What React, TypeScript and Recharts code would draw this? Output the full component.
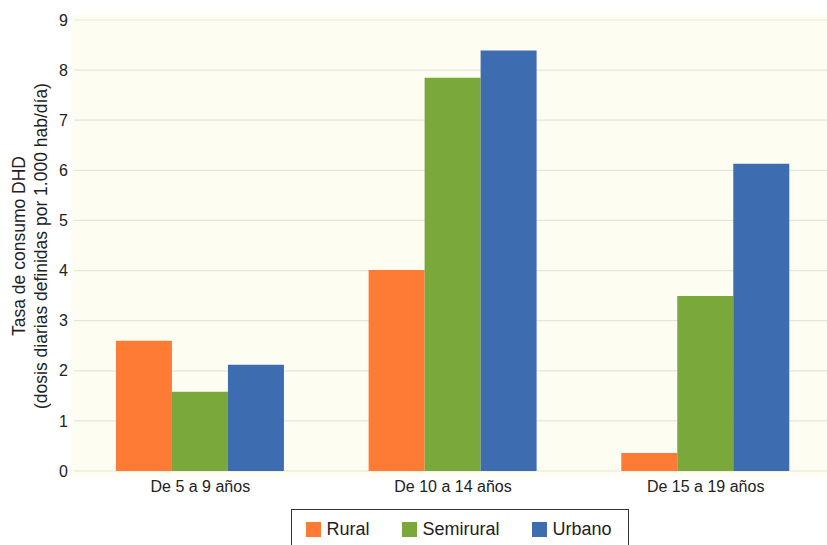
import React from "react";
import { BarChart, Bar, XAxis, YAxis, CartesianGrid } from "recharts";

const categories = ["De 5 a 9 años", "De 10 a 14 años", "De 15 a 19 años"];
const rural = [2.6, 4.01, 0.36];
const semirural = [1.58, 7.85, 3.49];
const urbano = [2.12, 8.39, 6.13];
const yTicks = [0, 1, 2, 3, 4, 5, 6, 7, 8, 9];

const SERIES = [
  { key: "rural", name: "Rural", color: "#FE7B35" },
  { key: "semirural", name: "Semirural", color: "#7BA83A" },
  { key: "urbano", name: "Urbano", color: "#3D6DB0" },
];

const data = categories.map((c, i) => ({
  cat: c,
  rural: rural[i],
  semirural: semirural[i],
  urbano: urbano[i],
}));

const FONT = '"Liberation Sans", Arial, Helvetica, sans-serif';

const YLabel = () => (
  <g fontFamily={FONT} fontSize={17.5} fill="#222">
    <text x={25} y={246} textAnchor="middle" transform="rotate(-90, 25, 246)">
      Tasa de consumo DHD
    </text>
    <text x={47} y={246} textAnchor="middle" transform="rotate(-90, 47, 246)">
      (dosis diarias definidas por 1.000 hab/día)
    </text>
  </g>
);

export default function App() {
  return (
    <div style={{ position: "absolute", left: 0, top: 0, width: 827, height: 545, overflow: "hidden", background: "#fff" }}>
      {/* plot background */}
      <div style={{ position: "absolute", left: 71, top: 15, width: 760, height: 462, background: "#FEFDF2" }} />
      <div style={{ position: "absolute", left: 0, top: 0 }}>
        <BarChart
          width={834}
          height={545}
          data={data}
          margin={{ top: 20, right: 2, bottom: 0, left: 0 }}
          barCategoryGap="16.6%"
          barGap={0}
        >
          <CartesianGrid vertical={false} stroke="#E6E5DC" strokeWidth={1.2} />
          <XAxis
            dataKey="cat"
            height={74}
            axisLine={false}
            tickLine={false}
            tickSize={6}
            tickMargin={4}
            tick={{ fontFamily: FONT, fontSize: 16, fill: "#222" }}
          />
          <YAxis
            width={74}
            domain={[0, 9]}
            ticks={yTicks}
            axisLine={false}
            tickLine={false}
            tickSize={4}
            tickMargin={2}
            tick={{ fontFamily: FONT, fontSize: 16, fill: "#222" }}
            label={{ content: () => <YLabel /> }}
          />
          {SERIES.map((s) => (
            <Bar key={s.key} dataKey={s.key} name={s.name} fill={s.color} isAnimationActive={false} />
          ))}
        </BarChart>
      </div>
      <div
        style={{
          position: "absolute",
          left: 291,
          top: 509,
          width: 338,
          height: 50,
          boxSizing: "border-box",
          border: "1.5px solid #333",
          background: "#fff",
          fontFamily: FONT,
          fontSize: 18,
          color: "#222",
        }}
      >
        <div style={{ display: "flex", alignItems: "center", height: 38, paddingLeft: 13.5 }}>
          {SERIES.map((s, i) => (
            <div key={s.key} style={{ display: "flex", alignItems: "center", marginLeft: i === 0 ? 0 : 32 }}>
              <div style={{ width: 15, height: 15, background: s.color, marginRight: 6 }} />
              <span>{s.name}</span>
            </div>
          ))}
        </div>
      </div>
    </div>
  );
}
